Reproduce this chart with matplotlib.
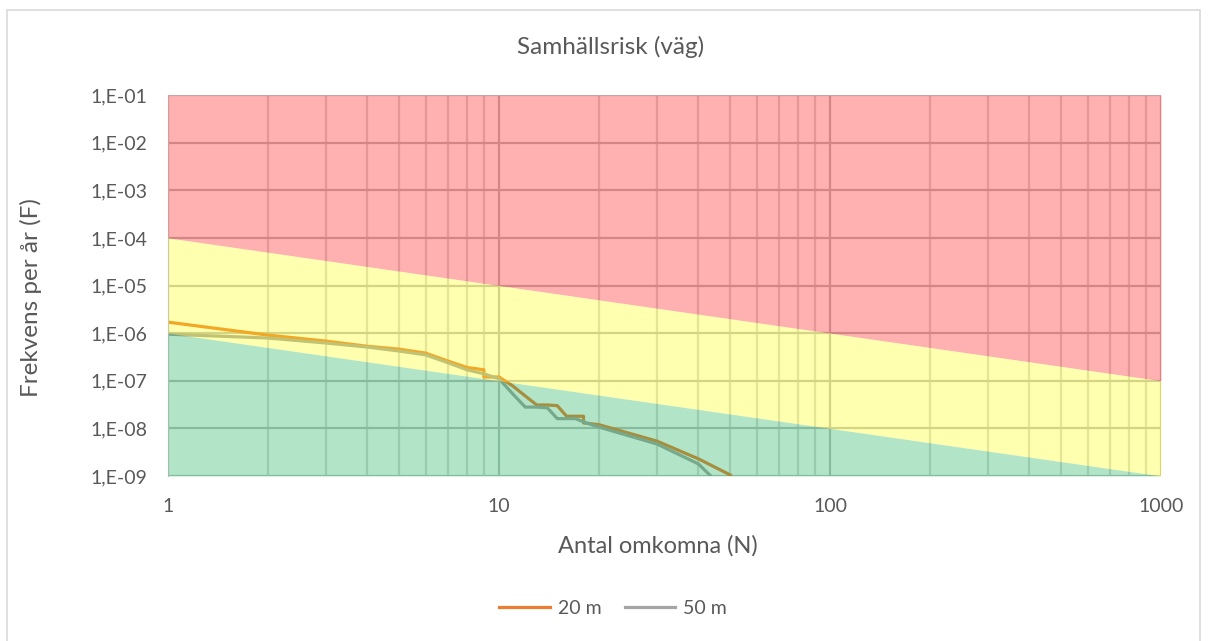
import matplotlib.pyplot as plt
import matplotlib.ticker as mticker
from matplotlib.patches import Rectangle
import numpy as np

plt.rcParams['font.family'] = ['Lato', 'DejaVu Sans']

# data
n_20 = [1, 2, 3, 4, 5, 6, 7, 8, 9, 9, 10, 11, 12, 13, 14, 15, 16, 17, 18, 18, 20, 30, 40, 50]
f_20 = [1.7e-6, 9.1e-7, 6.8e-7, 5.3e-7, 4.6e-7, 3.8e-7, 2.6e-7, 1.9e-7, 1.7e-7, 1.2e-7,
        1.2e-7, 7.8e-8, 4.8e-8, 3.1e-8, 3.1e-8, 3.0e-8, 1.8e-8, 1.8e-8, 1.8e-8, 1.3e-8,
        1.2e-8, 5.4e-9, 2.3e-9, 1.05e-9]
n_50 = [1, 2, 3, 4, 5, 6, 7, 8, 9, 10, 11, 12, 13, 14, 15, 16, 17, 19, 20, 30, 40, 50]
f_50 = [9.5e-7, 7.9e-7, 6.2e-7, 5.1e-7, 4.2e-7, 3.5e-7, 2.4e-7, 1.7e-7, 1.4e-7, 1.1e-7,
        5.3e-8, 2.8e-8, 2.8e-8, 2.7e-8, 1.6e-8, 1.6e-8, 1.6e-8, 1.2e-8, 1.07e-8, 4.7e-9,
        1.8e-9, 4e-10]
# criteria lines (N, F)
crit_n = [1, 1000]
upper_f = [1e-4, 1e-7]
lower_f = [1e-6, 1e-9]
y_top = 1e-1
y_bot = 1e-9
y_ticks = [1e-1, 1e-2, 1e-3, 1e-4, 1e-5, 1e-6, 1e-7, 1e-8, 1e-9]
x_ticks = [1, 10, 100, 1000]

W, H = 1208, 641
txt = '#595959'
fig = plt.figure(figsize=(W / 100, H / 100), dpi=100)
fig.patches.append(Rectangle((7 / W, -0.01), 1193 / W, 1 - 10 / H + 0.01,
                             transform=fig.transFigure, fill=False,
                             edgecolor='#d9d9d9', linewidth=1.2))
ax = fig.add_axes([168 / W, 1 - 476 / H, (1161 - 168) / W, (476 - 95) / H])

ax.set_xscale('log')
ax.set_yscale('log')
ax.set_xlim(1, 1000)
ax.set_ylim(y_bot, y_top)

ax.plot(n_20, f_20, color='#ED7D31', lw=2.3, zorder=2, label='20 m')
ax.plot(n_50, f_50, color='#A5A5A5', lw=2.3, zorder=2, label='50 m')

alpha = 0.33
ax.fill_between(crit_n, upper_f, y_top, color=(1.0, 0.06, 0.06), alpha=alpha, lw=0, zorder=3)
ax.fill_between(crit_n, lower_f, upper_f, color=(1.0, 1.0, 0.06), alpha=alpha, lw=0, zorder=3)
ax.fill_between(crit_n, y_bot, lower_f, color=(0.09, 0.70, 0.35), alpha=alpha, lw=0, zorder=3)

ax.set_yticks(y_ticks)
ax.yaxis.set_major_formatter(mticker.FuncFormatter(
    lambda v, p: '1,E-%02d' % round(-np.log10(v))))
ax.yaxis.set_minor_locator(mticker.NullLocator())
ax.set_xticks(x_ticks)
ax.xaxis.set_major_formatter(mticker.FuncFormatter(lambda v, p: '%d' % round(v)))
ax.xaxis.set_minor_locator(mticker.LogLocator(base=10, subs=np.arange(2, 10)))
ax.xaxis.set_minor_formatter(mticker.NullFormatter())

ax.grid(True, which='major', color='#c0c0c0', lw=1.6, zorder=1)
ax.grid(True, which='minor', axis='x', color='#d9d9d9', lw=1.6, zorder=1)
ax.set_axisbelow(True)
for s in ['top', 'right', 'bottom']:
    ax.spines[s].set_visible(False)
ax.spines['left'].set_color('#bfbfbf')
ax.tick_params(axis='both', which='both', length=0, labelsize=14, colors=txt)
ax.tick_params(axis='y', pad=15)
ax.tick_params(axis='x', pad=16)

fig.text(611 / W, 1 - 47 / H, 'Samhällsrisk (väg)', fontsize=17.5, color=txt,
         ha='center', va='center')
fig.text(658 / W, 1 - 546 / H, 'Antal omkomna (N)', fontsize=17, color=txt,
         ha='center', va='center')
fig.text(31 / W, 1 - 298 / H, 'Frekvens per år (F)', fontsize=17.5, color=txt,
         ha='center', va='center', rotation=90)

leg = fig.legend(loc='center', bbox_to_anchor=(613 / W, 1 - 608 / H), ncol=2, frameon=False,
                 fontsize=14, handlelength=2.6, columnspacing=1.2, handletextpad=0.4)
for t in leg.get_texts():
    t.set_color(txt)

fig.savefig('out.png', dpi=100)
